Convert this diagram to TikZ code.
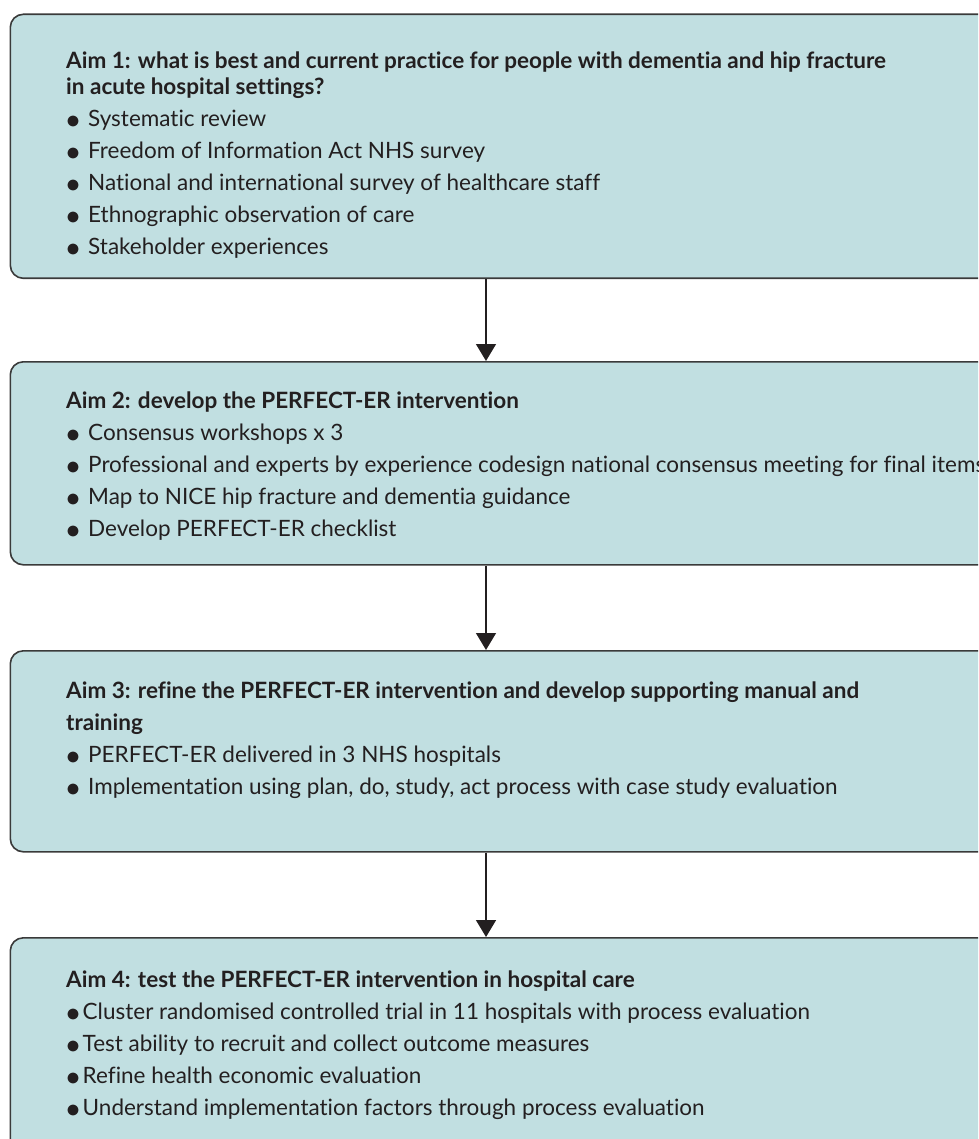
\documentclass[tikz,border=0pt]{standalone}
\usepackage{fontspec}
\setmainfont{Lato}[Ligatures=NoCommon]
\usetikzlibrary{arrows.meta}
\definecolor{boxfill}{RGB}{193,223,225}
\definecolor{boxline}{RGB}{58,58,58}
\definecolor{inkgrey}{RGB}{35,31,32}
\newcommand{\aimdot}{\makebox[22pt][l]{\raisebox{-1.8pt}{\scalebox{1.35}{$\bullet$}}}}
\newcommand{\aimdotnarrow}{\makebox[16.5pt][l]{\raisebox{-1.8pt}{\scalebox{1.35}{$\bullet$}}}}
\tikzset{
	aimbox/.style={draw=boxline, line width=1.6pt, fill=boxfill, rounded corners=13pt,
			minimum width=1100pt, anchor=north west, inner sep=0pt},
	aimtext/.style={anchor=north west, align=left, inner sep=0pt, text=inkgrey,
			font=\fontsize{22.5}{32}\selectfont},
	flow/.style={-{Triangle[width=20pt,length=17pt]}, line width=1.5pt, draw=inkgrey}
}

\begin{document}
\begin{tikzpicture}[x=1pt, y=-1pt]
	\useasboundingbox (0,0) rectangle (978,1139);
	\clip (0,0) rectangle (978,1139);
	% the four aims
	\node[aimbox, minimum height=264pt] (aimone) at (9.5,13.5) {};
	\node[aimbox, minimum height=203pt] (aimtwo) at (9.5,361) {};
	\node[aimbox, minimum height=201pt] (aimthree) at (9.5,650) {};
	\node[aimbox, minimum height=240pt] (aimfour) at (9.5,937) {};

	\node[aimtext] (aimonetxt) at (66,52) {\textbf{Aim 1: what is best and current practice for people with dementia and hip fracture}\\[-6pt]
		\textbf{in acute hospital settings?}\\
		\aimdot Systematic review\\
		\aimdot Freedom of Information Act NHS survey\\
		\aimdot National and international survey of healthcare staff\\
		\aimdot Ethnographic observation of care\\
		\aimdot Stakeholder experiences};
	\node[aimtext] (aimtwotxt) at (66,392) {\textbf{Aim 2: develop the PERFECT-ER intervention}\\
		\aimdot Consensus workshops x 3\\
		\aimdot Professional and experts by experience codesign national consensus meeting for final items\\
		\aimdot Map to NICE hip fracture and dementia guidance\\
		\aimdot Develop PERFECT-ER checklist};
	\node[aimtext] (aimthreetxt) at (66,681.5) {\textbf{Aim 3: refine the PERFECT-ER intervention and develop supporting manual and}\\
		\textbf{training}\\
		\aimdot PERFECT-ER delivered in 3 NHS hospitals\\
		\aimdot Implementation using plan, do, study, act process with case study evaluation};
	\node[aimtext] (aimfourtxt) at (66,970.5) {\textbf{Aim 4: test the PERFECT-ER intervention in hospital care}\\
		\aimdotnarrow Cluster randomised controlled trial in 11 hospitals with process evaluation\\
		\aimdotnarrow Test ability to recruit and collect outcome measures\\
		\aimdotnarrow Refine health economic evaluation\\
		\aimdotnarrow Understand implementation factors through process evaluation};

	% arrows between the aims
	\coordinate (spine) at (486,0);
	\draw[flow] (aimone.south -| spine) -- (aimtwo.north -| spine);
	\draw[flow] (aimtwo.south -| spine) -- (aimthree.north -| spine);
	\draw[flow] (aimthree.south -| spine) -- (aimfour.north -| spine);
\end{tikzpicture}
\end{document}
